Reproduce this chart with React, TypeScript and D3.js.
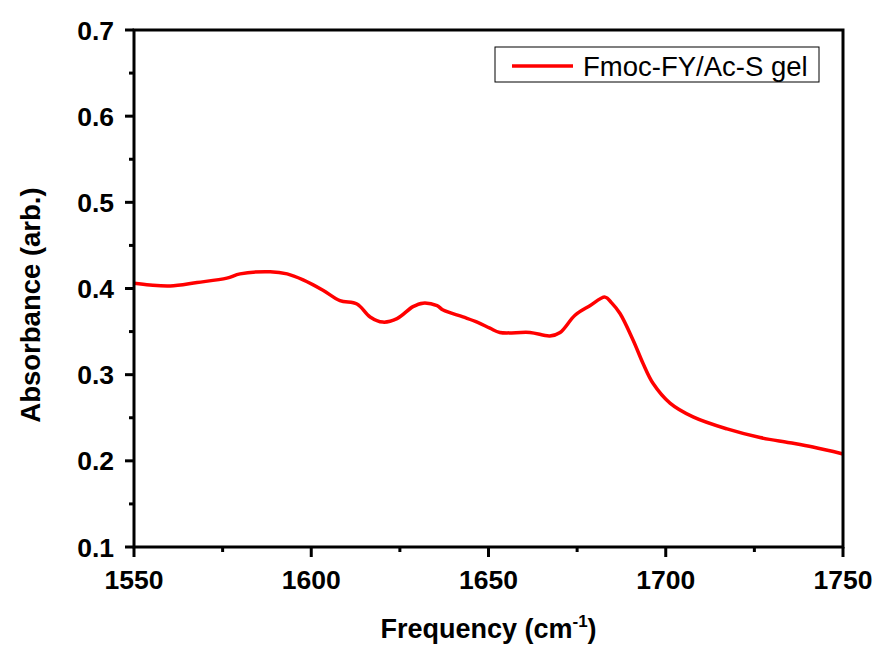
import React from "react";
import * as d3 from "d3";

const freq = [1550, 1554.5, 1560.2, 1567.8, 1576.2, 1579.9, 1588.4, 1593.2, 1597.7, 1603.3, 1608.1, 1612.9, 1616.6, 1620.2, 1624.2, 1628.7, 1631.5, 1635.5, 1637.2, 1642.8, 1646.8, 1650.4, 1653.2, 1661.7, 1667.3, 1670.2, 1674.4, 1678.6, 1682.9, 1684.8, 1687.1, 1690.8, 1693.6, 1696.4, 1701.2, 1707.7, 1717.3, 1726.6, 1735.0, 1741.5, 1750];
const absorb = [0.406, 0.404, 0.403, 0.407, 0.412, 0.417, 0.4195, 0.417, 0.410, 0.398, 0.386, 0.382, 0.367, 0.361, 0.365, 0.379, 0.383, 0.380, 0.375, 0.367, 0.361, 0.354, 0.349, 0.349, 0.345, 0.349, 0.369, 0.380, 0.390, 0.383, 0.371, 0.340, 0.313, 0.290, 0.267, 0.251, 0.237, 0.227, 0.221, 0.216, 0.208];
const xTicks = [1550, 1600, 1650, 1700, 1750];
const xMinor = [1575, 1625, 1675, 1725];
const yTicks = [0.1, 0.2, 0.3, 0.4, 0.5, 0.6, 0.7];
const yMinor = [0.15, 0.25, 0.35, 0.45, 0.55, 0.65];
const seriesName = "Fmoc-FY/Ac-S gel";

export default function App() {
  const L = 134, R = 843, T = 30, B = 547;
  const x = d3.scaleLinear().domain([1550, 1750]).range([L, R]);
  const y = d3.scaleLinear().domain([0.1, 0.7]).range([B, T]);
  const pts: [number, number][] = freq.map((f, i) => [f, absorb[i]]);
  const line = d3.line<[number, number]>().x(d => x(d[0])).y(d => y(d[1])).curve(d3.curveCatmullRom.alpha(0.5));
  const font = "Arial, 'Liberation Sans', sans-serif";
  return (
    <svg width={880} height={648} style={{ position: "absolute", left: 0, top: 0, background: "#fff" }} fontFamily={font}>
      <rect x={0} y={0} width={880} height={648} fill="#fff" />
      <path d={line(pts) || ""} fill="none" stroke="#ff0000" strokeWidth={3.5} strokeLinejoin="round" />
      <rect x={L} y={T} width={R - L} height={B - T} fill="none" stroke="#000" strokeWidth={3} />
      {yTicks.map(t => (
        <g key={"y" + t}>
          <line x1={L - 9} x2={L} y1={y(t)} y2={y(t)} stroke="#000" strokeWidth={3} />
          <text x={114} y={y(t)} dy="0.36em" textAnchor="end" fontSize={26.5} fontWeight="bold">{t.toFixed(1)}</text>
        </g>
      ))}
      {yMinor.map(t => (
        <line key={"ym" + t} x1={L - 5} x2={L} y1={y(t)} y2={y(t)} stroke="#000" strokeWidth={3} />
      ))}
      {xTicks.map(t => (
        <g key={"x" + t}>
          <line x1={x(t)} x2={x(t)} y1={B} y2={B + 10} stroke="#000" strokeWidth={3} />
          <text x={x(t)} y={589} textAnchor="middle" fontSize={26.5} fontWeight="bold">{t}</text>
        </g>
      ))}
      {xMinor.map(t => (
        <line key={"xm" + t} x1={x(t)} x2={x(t)} y1={B} y2={B + 5} stroke="#000" strokeWidth={3} />
      ))}
      <text x={(L + R) / 2} y={638} textAnchor="middle" fontSize={27} fontWeight="bold">
        Frequency (cm<tspan dy={-11} fontSize={17}>-1</tspan><tspan dy={11}>)</tspan>
      </text>
      <text transform={`translate(40, 305) rotate(-90)`} textAnchor="middle" fontSize={27.5} fontWeight="bold">Absorbance (arb.)</text>
      <rect x={495} y={47} width={324} height={35} fill="#fff" stroke="#000" strokeWidth={1} />
      <line x1={512} x2={573} y1={66} y2={66} stroke="#ff0000" strokeWidth={3.5} />
      <text x={583} y={66} dy="0.36em" fontSize={27.5}>{seriesName}</text>
    </svg>
  );
}
